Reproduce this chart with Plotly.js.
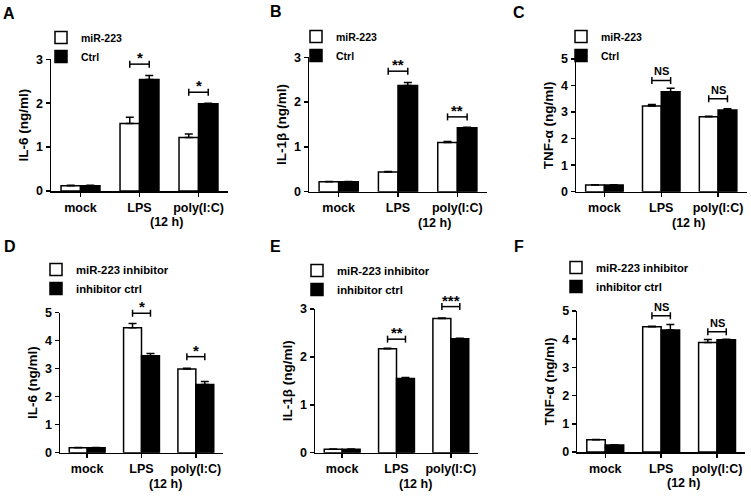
<!DOCTYPE html>
<html>
<head>
<meta charset="utf-8">
<script src="https://cdn.plot.ly/plotly-3.0.1.min.js"></script>
<style>html,body{margin:0;padding:0;background:#fff}#chart{width:751px;height:496px}</style>
</head>
<body>
<div id="chart"></div>
<script>
// ---------- data ----------
const categories = ['mock', 'LPS', 'poly(I:C)'];
const topSeriesNames = ['miR-223', 'Ctrl'];
const bottomSeriesNames = ['miR-223 inhibitor', 'inhibitor ctrl'];
const panelLetters = ['A', 'B', 'C', 'D', 'E', 'F'];
const yTitles = ['IL-6 (ng/ml)', 'IL-1β (ng/ml)', 'TNF-α (ng/ml)', 'IL-6 (ng/ml)', 'IL-1β (ng/ml)', 'TNF-α (ng/ml)'];
const yMax = [3, 3, 5, 5, 3, 5];
const timeLabel = '(12 h)';

// Panel A: IL-6, miR-223 vs Ctrl
const aWhite = [0.12, 1.54, 1.22];
const aWhiteErr = [0.01, 0.14, 0.08];
const aBlack = [0.12, 2.54, 1.99];
const aBlackErr = [0.01, 0.09, 0.01];
const aSigCat = [1, 2];
const aSigLevel = [2.89, 2.25];
const aSigText = ['*', '*'];

// Panel B: IL-1β, miR-223 vs Ctrl
const bWhite = [0.22, 0.44, 1.10];
const bWhiteErr = [0.01, 0.01, 0.02];
const bBlack = [0.22, 2.37, 1.43];
const bBlackErr = [0.01, 0.07, 0.01];
const bSigCat = [1, 2];
const bSigLevel = [2.69, 1.67];
const bSigText = ['**', '**'];

// Panel C: TNF-α, miR-223 vs Ctrl
const cWhite = [0.25, 3.23, 2.82];
const cWhiteErr = [0.01, 0.06, 0.02];
const cBlack = [0.25, 3.77, 3.08];
const cBlackErr = [0.01, 0.13, 0.05];
const cSigCat = [1, 2];
const cSigLevel = [4.19, 3.50];
const cSigText = ['NS', 'NS'];

// Panel D: IL-6, miR-223 inhibitor vs inhibitor ctrl
const dWhite = [0.18, 4.46, 2.99];
const dWhiteErr = [0.01, 0.15, 0.03];
const dBlack = [0.18, 3.46, 2.44];
const dBlackErr = [0.01, 0.08, 0.10];
const dSigCat = [1, 2];
const dSigLevel = [4.98, 3.43];
const dSigText = ['*', '*'];

// Panel E: IL-1β, miR-223 inhibitor vs inhibitor ctrl
const eWhite = [0.07, 2.17, 2.80];
const eWhiteErr = [0.005, 0.01, 0.01];
const eBlack = [0.07, 1.55, 2.38];
const eBlackErr = [0.005, 0.02, 0.01];
const eSigCat = [1, 2];
const eSigLevel = [2.37, 3.05];
const eSigText = ['**', '***'];

// Panel F: TNF-α, miR-223 inhibitor vs inhibitor ctrl
const fWhite = [0.43, 4.44, 3.88];
const fWhiteErr = [0.01, 0.02, 0.11];
const fBlack = [0.25, 4.33, 3.98];
const fBlackErr = [0.01, 0.19, 0.02];
const fSigCat = [1, 2];
const fSigLevel = [4.83, 4.26];
const fSigText = ['NS', 'NS'];

// ---------- layout config ----------
const W = 751, H = 496;
const FONT = 'Liberation Sans, Arial, Helvetica, sans-serif';
// plot area boxes in pixels [left, right, top, bottom]
const boxes = [
  [51, 228, 59.3, 191],
  [309, 487, 57.3, 191.7],
  [576, 746.5, 59, 191.7],
  [60, 223, 312.7, 452.7],
  [315, 478, 309, 452.7],
  [577.3, 745, 311, 452]
];
const legendPos = [[41, 23], [296, 22], [561, 22], [36, 255], [297, 256], [556, 253]];
const legendFont = [10.5, 10.5, 10.5, 11.3, 11.3, 11.3];
const letterPos = [[9, 13], [276, 11], [519, 12.5], [10, 246], [275, 246], [519, 246]];
const timeX = [1.45, 1.62, 1.48, 1.44, 1.35, 1.40];
const halfOffset = 0.165;

const panels = [
  [aWhite, aWhiteErr, aBlack, aBlackErr, aSigCat, aSigLevel, aSigText],
  [bWhite, bWhiteErr, bBlack, bBlackErr, bSigCat, bSigLevel, bSigText],
  [cWhite, cWhiteErr, cBlack, cBlackErr, cSigCat, cSigLevel, cSigText],
  [dWhite, dWhiteErr, dBlack, dBlackErr, dSigCat, dSigLevel, dSigText],
  [eWhite, eWhiteErr, eBlack, eBlackErr, eSigCat, eSigLevel, eSigText],
  [fWhite, fWhiteErr, fBlack, fBlackErr, fSigCat, fSigLevel, fSigText]
];

const traces = [];
const shapes = [];
const annotations = [];
const layout = {
  width: W, height: H,
  margin: {l: 0, r: 0, t: 0, b: 0, pad: 0},
  paper_bgcolor: '#ffffff', plot_bgcolor: '#ffffff',
  font: {family: FONT, color: '#000000', weight: 'bold'},
  barmode: 'group', bargap: 0.34, bargroupgap: 0,
  showlegend: true
};

const xPos = [0, 1, 2];

panels.forEach((p, i) => {
  const s = i === 0 ? '' : String(i + 1);
  const xa = 'x' + s, ya = 'y' + s;
  const lg = 'legend' + s;
  const names = i < 3 ? topSeriesNames : bottomSeriesNames;
  const [white, whiteErr, black, blackErr, sigCat, sigLevel, sigText] = p;
  const zeros = white.map(() => 0);

  traces.push({
    type: 'bar', x: xPos, y: white, name: names[0], xaxis: xa, yaxis: ya, legend: lg,
    marker: {color: '#ffffff', line: {color: '#000000', width: 1.5}},
    error_y: {type: 'data', symmetric: false, array: whiteErr, arrayminus: zeros, color: '#000000', thickness: 1.5, width: 4},
    hoverinfo: 'skip'
  });
  traces.push({
    type: 'bar', x: xPos, y: black, name: names[1], xaxis: xa, yaxis: ya, legend: lg,
    marker: {color: '#000000', line: {color: '#000000', width: 1.5}},
    error_y: {type: 'data', symmetric: false, array: blackErr, arrayminus: zeros, color: '#000000', thickness: 1.5, width: 4},
    hoverinfo: 'skip'
  });

  const b = boxes[i];
  const axCommon = {
    showline: true, linecolor: '#000000', linewidth: 1.5, mirror: false,
    ticks: 'outside', ticklen: 4, tickwidth: 1.5, tickcolor: '#000000',
    showgrid: false, zeroline: false, fixedrange: true,
    tickfont: {family: FONT, size: 12.5, color: '#000000', weight: 'bold'}
  };
  layout['xaxis' + s] = Object.assign({}, axCommon, {
    domain: [b[0] / W, b[1] / W], anchor: ya,
    type: 'linear', range: [-0.5, 2.5], tickvals: xPos, ticktext: categories
  });
  layout['yaxis' + s] = Object.assign({}, axCommon, {
    domain: [1 - b[3] / H, 1 - b[2] / H], anchor: xa,
    range: [0, yMax[i]], tick0: 0, dtick: 1,
    title: {text: yTitles[i], font: {family: FONT, size: 13.5, color: '#000000', weight: 'bold'}, standoff: 4}
  });

  layout[lg] = {
    x: legendPos[i][0] / W, y: 1 - legendPos[i][1] / H, xanchor: 'left', yanchor: 'top',
    bgcolor: 'rgba(0,0,0,0)', borderwidth: 0, tracegroupgap: 0, itemwidth: 30,
    font: {family: FONT, size: legendFont[i], color: '#000000', weight: 'bold'}
  };

  // significance brackets
  sigCat.forEach((c, k) => {
    const yd = sigLevel[k] / yMax[i];
    const yref = ya + ' domain';
    shapes.push({type: 'line', xref: xa, yref: yref, x0: c - halfOffset, x1: c + halfOffset, y0: yd, y1: yd,
      line: {color: '#000000', width: 1.5}});
    [c - halfOffset, c + halfOffset].forEach(xe => {
      shapes.push({type: 'line', xref: xa, yref: yref, x0: xe, x1: xe, ysizemode: 'pixel', yanchor: yd, y0: -3.5, y1: 3.5,
        line: {color: '#000000', width: 1.5}});
    });
    const isNS = sigText[k] === 'NS';
    annotations.push({
      xref: xa, yref: yref, x: c, y: yd, text: sigText[k], showarrow: false,
      xanchor: 'center', yanchor: 'bottom', yshift: isNS ? 1 : -4,
      font: {family: FONT, size: isNS ? 11 : 15, color: '#000000', weight: 'bold'}
    });
  });

  // (12 h) label
  annotations.push({
    xref: xa, yref: ya + ' domain', x: timeX[i], y: 0, yshift: -31, yanchor: 'middle', xanchor: 'center',
    text: timeLabel, showarrow: false,
    font: {family: FONT, size: 12.5, color: '#000000', weight: 'bold'}
  });

  // panel letter
  annotations.push({
    xref: 'paper', yref: 'paper', x: letterPos[i][0] / W, y: 1 - letterPos[i][1] / H,
    xanchor: 'center', yanchor: 'middle', text: panelLetters[i], showarrow: false,
    font: {family: FONT, size: 16, color: '#000000', weight: 'bold'}
  });
});

layout.shapes = shapes;
layout.annotations = annotations;

Plotly.newPlot('chart', traces, layout, {displayModeBar: false, staticPlot: true});
</script>
</body>
</html>
